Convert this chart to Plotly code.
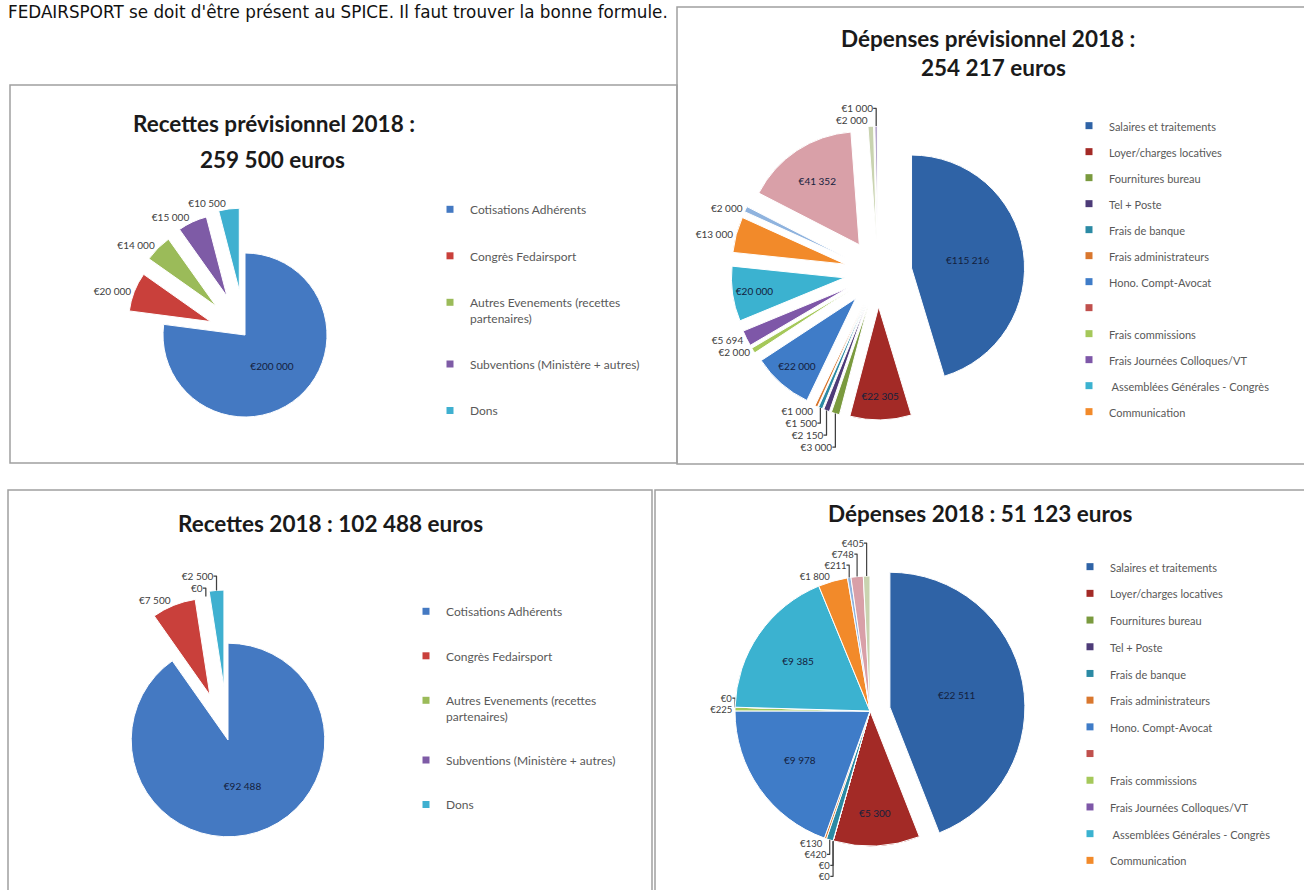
import textwrap
import plotly.graph_objects as go

W, H = 1304, 890

# ---------------- data ----------------
header_text = "FEDAIRSPORT se doit d'être présent au SPICE. Il faut trouver la bonne formule."

rec_cats = ["Cotisations Adhérents", "Congrès Fedairsport",
            "Autres Evenements (recettes partenaires)",
            "Subventions (Ministère + autres)", "Dons"]
rec_colors = ["#4479C2", "#C9403B", "#9BBB59", "#7E5BA6", "#3FB0D0"]
rec_prev_vals = [200000, 20000, 14000, 15000, 10500]
rec_2018_vals = [92488, 7500, 0, None, 2500]

dep_cats = ["Salaires et traitements", "Loyer/charges locatives", "Fournitures bureau",
            "Tel + Poste", "Frais de banque", "Frais administrateurs",
            "Hono. Compt-Avocat", "", "Frais commissions",
            "Frais Journées Colloques/VT", " Assemblées Générales - Congrès",
            "Communication"]
dep_extra_cats = ["Poste 13", "Poste 14", "Poste 15", "Poste 16"]   # not shown in legend
dep_colors = ["#2F63A6", "#A32A26", "#7A9A3E", "#4D3B78", "#2B8AA4", "#D9772E",
              "#3F7CC8", "#C0504D", "#A5C85A", "#7E57A8", "#3BB2D0", "#F28A2A",
              "#8FB3DE", "#D9A0A8", "#C9D3B0", "#B6A8CC"]
dep_prev_vals = [115216, 22305, 3000, 2150, 1500, 1000, 22000, None, 2000, 5694,
                 20000, 13000, 2000, 41352, 2000, 1000]
dep_2018_vals = [22511, 5300, 0, 0, 420, 130, 9978, None, 225, 0, 9385, 1800,
                 211, 748, 405, None]

titles = [
    ("Recettes prévisionnel 2018 :", 274, 123),
    ("259 500 euros", 272, 159),
    ("Dépenses prévisionnel 2018 :", 988, 38),
    ("254 217 euros", 993, 68),
    ("Recettes 2018 : 102 488 euros", 330, 523),
    ("Dépenses 2018 : 51 123 euros", 980, 513),
]

# ---------------- helpers ----------------
def px_x(x):
    return x / W


def px_y(y):
    return 1 - y / H


def domain(cx, cy, half):
    return dict(x=[max(0, px_x(cx - half)), min(1, px_x(cx + half))],
                y=[max(0, px_y(cy + half)), min(1, px_y(cy - half))])


def wrap(s):
    return "<br>".join(textwrap.wrap(s, 32)) if s.strip() else ""


FONT = "Lato, 'Open Sans', sans-serif"
fig = go.Figure()


def add_pie(vals, labels, colors, cx, cy, r, pulls, positions, fsize=10):
    maxp = max(pulls)
    fig.add_trace(go.Pie(
        values=vals, labels=labels, sort=False, direction="clockwise", rotation=0,
        marker=dict(colors=colors, line=dict(color="white", width=1)),
        pull=pulls, textposition=positions,
        texttemplate="€%{value:,.0f}",
        insidetextorientation="horizontal",
        insidetextfont=dict(family=FONT, size=10, color="#14213d"),
        outsidetextfont=dict(family=FONT, size=fsize, color="#404040"),
        showlegend=False, hoverinfo="label+value", automargin=False,
        domain=domain(cx, cy, r * (1 + maxp)),
    ))


def add_legend(cats, colors, legend_id, group):
    for i, c in enumerate(cats):
        fig.add_trace(go.Scatter(
            x=[None], y=[None], mode="markers",
            marker=dict(symbol="square", size=7, color=colors[i]),
            name=wrap(c), legend=legend_id, legendgroup=f"{group}{i}",
            showlegend=True, hoverinfo="skip"))


# ---------------- pies ----------------
add_pie(rec_prev_vals, rec_cats, rec_colors, 245, 335, 82,
        [0, 0.45, 0.5, 0.52, 0.55],
        ["inside", "outside", "outside", "outside", "outside"])

add_pie(dep_prev_vals, dep_cats[:7] + ["(vide)"] + dep_cats[8:] + dep_extra_cats,
        dep_colors, 878, 273, 113, [0.3] * 16,
        ["inside", "inside", "outside", "outside", "outside", "outside", "inside",
         "outside", "outside", "outside", "inside", "outside", "outside", "inside",
         "outside", "outside"])

add_pie(rec_2018_vals, rec_cats, rec_colors, 228, 740, 96.8,
        [0, 0.5, 0.5, 0.5, 0.55],
        ["inside", "outside", "outside", "outside", "outside"])

add_pie(dep_2018_vals, dep_cats[:7] + ["(vide)"] + dep_cats[8:] + dep_extra_cats,
        dep_colors, 870, 711, 135, [0.15] + [0] * 15,
        ["inside", "inside", "outside", "outside", "outside", "outside", "inside",
         "outside", "outside", "outside", "inside", "outside", "outside", "outside",
         "outside", "outside"], fsize=9.5)

# ---------------- legends ----------------
add_legend(rec_cats, rec_colors, "legend", "a")
add_legend(dep_cats, dep_colors, "legend2", "b")
add_legend(rec_cats, rec_colors, "legend3", "c")
add_legend(dep_cats, dep_colors, "legend4", "d")


def leg(x, y, size, gap):
    return dict(x=px_x(x), y=px_y(y), xanchor="left", yanchor="top",
                bgcolor="rgba(0,0,0,0)", borderwidth=0,
                font=dict(family=FONT, size=size, color="#595959"),
                tracegroupgap=gap, traceorder="grouped", valign="top",
                itemclick=False, itemdoubleclick=False)


# ---------------- annotations ----------------
annotations = [dict(text=header_text, x=px_x(6), y=1, xref="paper", yref="paper",
                    xanchor="left", yanchor="top", showarrow=False,
                    font=dict(family="DejaVu Sans", size=16.8, color="#111111"))]
for t, x, y in titles:
    annotations.append(dict(text=t, x=px_x(x), y=px_y(y), xref="paper", yref="paper",
                            xanchor="center", yanchor="middle", showarrow=False,
                            font=dict(family=FONT, size=22.5, color="#1a1a1a",
                                      weight="bold")))

boxes = [(10, 85, 677, 463), (677, 7, 1310, 464), (8, 490, 652, 900), (655, 490, 1310, 900)]
shapes = [dict(type="rect", xref="paper", yref="paper",
               x0=px_x(a), y0=px_y(d), x1=px_x(c), y1=px_y(b),
               line=dict(color="#A0A0A0", width=1.5), fillcolor="rgba(0,0,0,0)")
          for a, b, c, d in boxes]

fig.update_layout(
    width=W, height=H, margin=dict(l=0, r=0, t=0, b=0, pad=0, autoexpand=False),
    paper_bgcolor="white", plot_bgcolor="rgba(0,0,0,0)",
    separators=", ",
    font=dict(family=FONT),
    xaxis=dict(visible=False, domain=[0.5, 0.501], automargin=False,
               showticklabels=False, showgrid=False, zeroline=False),
    yaxis=dict(visible=False, domain=[0.5, 0.501], automargin=False,
               showticklabels=False, showgrid=False, zeroline=False),
    legend=leg(430, 195, 12, 27.5),
    legend2=leg(1069, 112, 11, 7),
    legend3=leg(406, 597, 12, 25.5),
    legend4=leg(1070, 553, 11, 7.7),
    annotations=annotations,
    shapes=shapes,
    hovermode=False,
)

fig.write_html("out.html", config={"displayModeBar": False},
               post_script="document.body.style.margin='0';"
                           "document.body.style.overflow='hidden';")
